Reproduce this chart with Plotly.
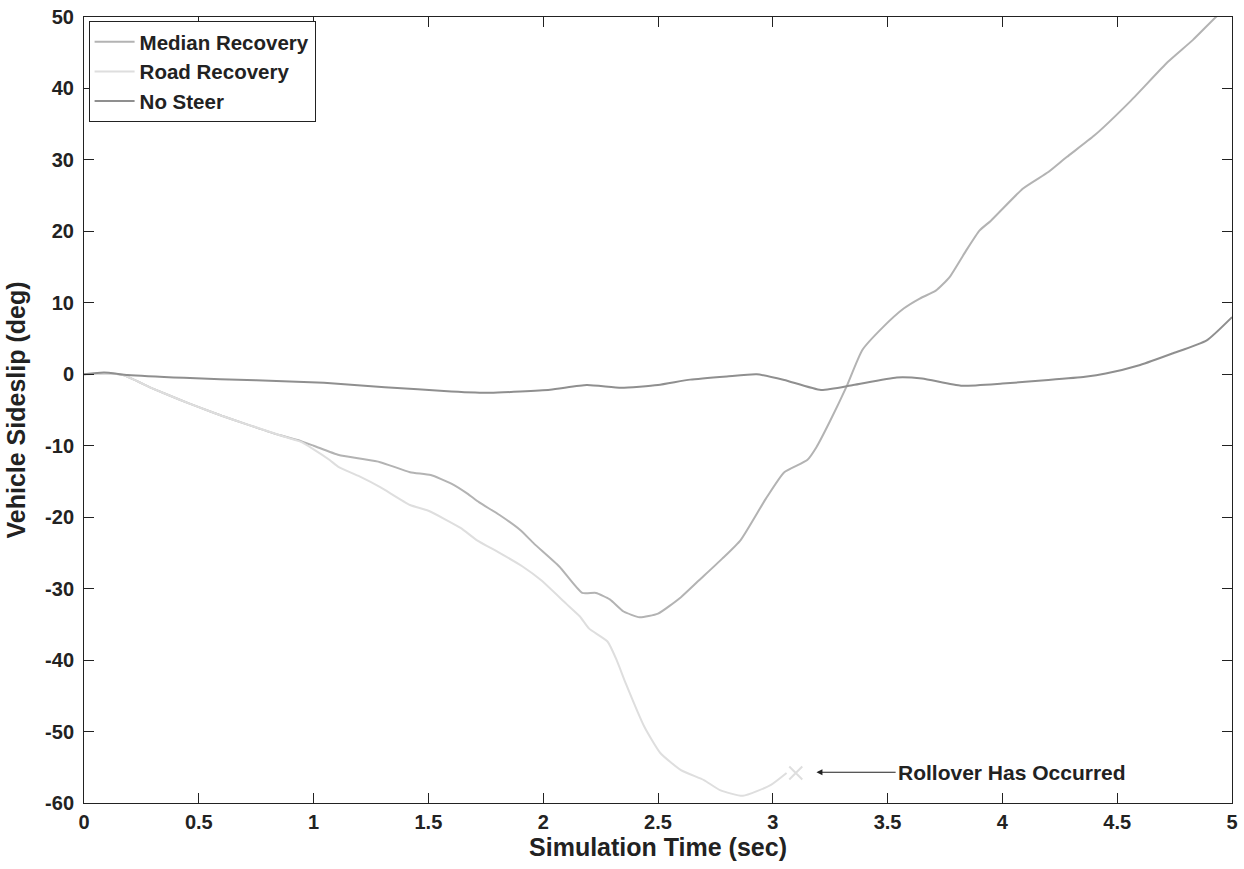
import plotly.graph_objects as go

# ---- data ----
t_median = [0, 0.1, 0.17, 0.3, 0.42, 0.5, 0.6, 0.7, 0.85, 0.93, 1.0, 1.11, 1.2, 1.29, 1.42, 1.51,
            1.6, 1.67, 1.72, 1.81, 1.9, 1.96, 2.07, 2.17, 2.23, 2.29, 2.35, 2.42, 2.5, 2.6, 2.68,
            2.78, 2.86, 2.97, 3.05, 3.15, 3.19, 3.25, 3.32, 3.39, 3.48, 3.57, 3.64, 3.71, 3.77,
            3.84, 3.9, 3.95, 4.09, 4.2, 4.28, 4.4, 4.56, 4.72, 4.83, 4.93, 5.0]
median = [0, 0.1, -0.1, -2.0, -3.6, -4.6, -5.8, -6.9, -8.5, -9.2, -10.0, -11.3, -11.8, -12.3, -13.7,
          -14.1, -15.3, -16.7, -17.9, -19.7, -21.8, -23.7, -26.9, -30.6, -30.6, -31.5, -33.2, -34.0,
          -33.5, -31.2, -28.8, -25.8, -23.2, -17.4, -13.7, -12.0, -10.2, -6.5, -1.8, 3.4, 6.6, 9.2,
          10.6, 11.7, 13.6, 17.2, 20.1, 21.5, 26.0, 28.3, 30.4, 33.4, 38.3, 43.7, 46.8, 50.0, 52.0]

t_road = [0, 0.1, 0.17, 0.3, 0.42, 0.5, 0.6, 0.7, 0.85, 0.94, 1.0, 1.07, 1.11, 1.2, 1.29, 1.42,
          1.5, 1.64, 1.71, 1.81, 1.91, 1.99, 2.1, 2.16, 2.2, 2.28, 2.32, 2.36, 2.44, 2.51, 2.6,
          2.7, 2.77, 2.87, 2.99, 3.06]
road = [0, 0.1, -0.1, -2.0, -3.6, -4.6, -5.8, -6.9, -8.5, -9.4, -10.5, -12.0, -13.0, -14.3, -15.8,
        -18.3, -19.1, -21.5, -23.2, -25.0, -26.9, -28.8, -32.1, -33.9, -35.6, -37.4, -40.0, -43.3,
        -49.3, -53.0, -55.4, -56.8, -58.2, -59.0, -57.5, -55.8]

t_nosteer = [0, 0.087, 0.19, 0.435, 0.75, 1.045, 1.31, 1.6, 1.77, 2.03, 2.19, 2.34, 2.5, 2.64,
             2.8, 2.93, 3.05, 3.21, 3.35, 3.54, 3.65, 3.82, 4.0, 4.2, 4.36, 4.45, 4.6, 4.74,
             4.89, 5.0]
nosteer = [0, 0.24, -0.1, -0.5, -0.85, -1.2, -1.8, -2.4, -2.6, -2.15, -1.5, -1.9, -1.5, -0.75,
           -0.3, 0, -0.8, -2.2, -1.5, -0.45, -0.6, -1.6, -1.3, -0.8, -0.35, 0.1, 1.3, 2.9,
           4.75, 8.0]

rollover_t = [3.1]
rollover_y = [-55.8]

x_ticks = [0, 0.5, 1, 1.5, 2, 2.5, 3, 3.5, 4, 4.5, 5]
x_tick_labels = ["0", "0.5", "1", "1.5", "2", "2.5", "3", "3.5", "4", "4.5", "5"]
y_ticks = [-60, -50, -40, -30, -20, -10, 0, 10, 20, 30, 40, 50]
y_tick_labels = [str(v) for v in y_ticks]

# ---- styles ----
C_MEDIAN = "#b3b3b3"
C_ROAD = "#dedede"
C_NOSTEER = "#8f8f8f"
TXT = "#222222"
FONT = "Liberation Sans, Arial, sans-serif"
FS_TICK = 20
FS_TITLE = 25
FS_LEG = 20.5
FS_ANN = 21

fig = go.Figure()
fig.add_trace(go.Scatter(x=t_median, y=median, mode="lines", name="<b>Median Recovery</b>",
                         line=dict(color=C_MEDIAN, width=2, shape="spline", smoothing=0.5)))
fig.add_trace(go.Scatter(x=t_road, y=road, mode="lines", name="<b>Road Recovery</b>",
                         line=dict(color=C_ROAD, width=2, shape="spline", smoothing=0.5)))
fig.add_trace(go.Scatter(x=t_nosteer, y=nosteer, mode="lines", name="<b>No Steer</b>",
                         line=dict(color=C_NOSTEER, width=2, shape="spline", smoothing=0.5)))
fig.add_trace(go.Scatter(x=rollover_t, y=rollover_y, mode="markers", showlegend=False,
                         marker=dict(symbol="x-thin-open", size=13,
                                     line=dict(color=C_ROAD, width=2), color=C_ROAD)))

fig.add_annotation(x=3.19, y=-55.7, ax=3.535, ay=-55.7, xref="x", yref="y", axref="x", ayref="y",
                   text="<b>Rollover Has Occurred</b>", xanchor="left", showarrow=True,
                   arrowhead=2, arrowsize=1, arrowwidth=1.2, arrowcolor=TXT,
                   font=dict(size=FS_ANN, color=TXT, family=FONT))

axis_common = dict(showline=True, linecolor=TXT, linewidth=1, mirror="ticks", ticks="inside",
                   ticklen=10, tickwidth=1, tickcolor=TXT, showgrid=False, zeroline=False,
                   automargin=False, tickfont=dict(size=FS_TICK, color=TXT, family=FONT))

fig.update_xaxes(range=[0, 5], tickvals=x_ticks, ticktext=["<b>%s</b>" % s for s in x_tick_labels],
                 ticklabelstandoff=1,
                 title=dict(text="<b>Simulation Time (sec)</b>",
                            font=dict(size=FS_TITLE, color=TXT, family=FONT), standoff=6),
                 **axis_common)
fig.update_yaxes(range=[-60, 50], tickvals=y_ticks, ticktext=["<b>%s</b>" % s for s in y_tick_labels],
                 ticklabelstandoff=5,
                 title=dict(text="<b>Vehicle Sideslip (deg)</b>",
                            font=dict(size=FS_TITLE, color=TXT, family=FONT), standoff=12),
                 **axis_common)

fig.update_layout(
    width=1244, height=869,
    margin=dict(l=84, r=12, t=17, b=66),
    paper_bgcolor="white", plot_bgcolor="white",
    font=dict(family=FONT, color=TXT),
    legend=dict(x=0.004, y=0.995, xanchor="left", yanchor="top",
                bordercolor=TXT, borderwidth=1, bgcolor="white",
                font=dict(size=FS_LEG, color=TXT, family=FONT),
                tracegroupgap=0, itemwidth=40),
)

# remove the browser's default 8px body margin so the figure sits at the page origin
fig.write_html("out.html", config={"displayModeBar": False},
               post_script="document.body.style.margin='0px';")
